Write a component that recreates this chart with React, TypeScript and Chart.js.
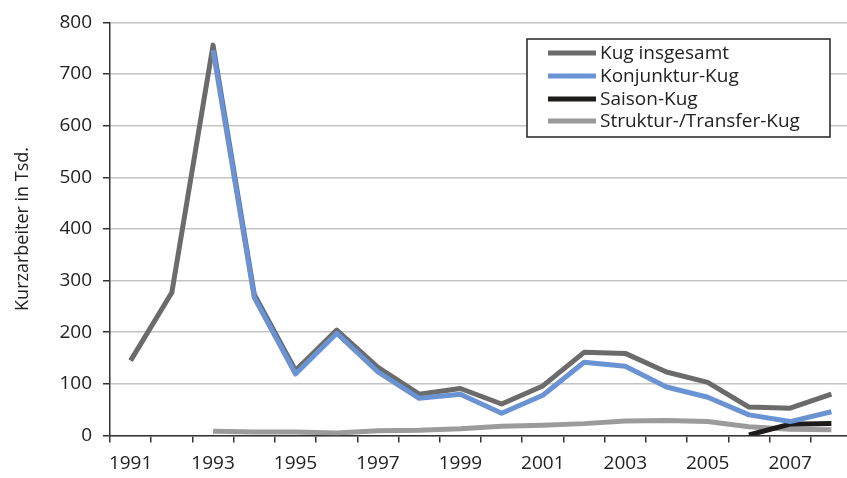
import React, { useEffect, useRef } from "react";
import { Chart, registerables } from "chart.js";

Chart.register(...registerables);

const years = ["1991","1992","1993","1994","1995","1996","1997","1998","1999","2000","2001","2002","2003","2004","2005","2006","2007","2008"];
const kugInsgesamt = [145, 277, 756, 273, 126, 204, 132, 80, 91, 61, 96, 161, 159, 123, 103, 55, 53, 80];
const konjunkturKug = [null, null, 746, 267, 119, 198, 123, 72, 80, 43, 78, 142, 134, 94, 74, 40, 27, 46];
const saisonKug = [null, null, null, null, null, null, null, null, null, null, null, null, null, null, null, 1, 22, 23];
const strukturKug = [null, null, 8, 7, 7, 5, 9, 10, 13, 18, 20, 23, 28, 29, 27, 17, 12, 11];
const yTitle = "Kurzarbeiter in Tsd.";
const seriesNames = ["Kug insgesamt", "Konjunktur-Kug", "Saison-Kug", "Struktur-/Transfer-Kug"];
const seriesColors = ["#6b6b6b", "#6a93d4", "#1f1b1b", "#9b9b9b"];

const FONT = "'Open Sans', sans-serif";

const boxLegend = {
  id: "boxLegend",
  afterDraw(chart: any) {
    const ctx = chart.ctx;
    ctx.save();
    ctx.fillStyle = "#ffffff";
    ctx.fillRect(527, 39, 303, 98);
    ctx.strokeStyle = "#222";
    ctx.lineWidth = 1.5;
    ctx.strokeRect(527, 39, 303, 98);
    const rows = [53, 76, 99, 121];
    seriesNames.forEach((name, i) => {
      ctx.beginPath();
      ctx.strokeStyle = seriesColors[i];
      ctx.lineWidth = 5;
      ctx.moveTo(548, rows[i]);
      ctx.lineTo(596, rows[i]);
      ctx.stroke();
      ctx.fillStyle = "#222";
      ctx.font = `19px ${FONT}`;
      ctx.textBaseline = "middle";
      ctx.textAlign = "left";
      ctx.fillText(name, 600, rows[i] + 1);
    });
    ctx.restore();
  },
};

export default function App() {
  const ref = useRef<HTMLCanvasElement>(null);
  useEffect(() => {
    if (!ref.current) return;
    const mk = (i: number, data: any[], order: number) => ({
      label: seriesNames[i],
      data,
      borderColor: seriesColors[i],
      backgroundColor: seriesColors[i],
      borderWidth: 5,
      pointRadius: 0,
      tension: 0,
      fill: false,
      spanGaps: false,
      borderJoinStyle: "round" as const,
      order,
    });
    const chart = new Chart(ref.current, {
      type: "line",
      data: {
        labels: years,
        datasets: [
          mk(0, kugInsgesamt, 3),
          mk(1, konjunkturKug, 0),
          mk(2, saisonKug, 1),
          mk(3, strukturKug, 2),
        ],
      },
      options: {
        responsive: false,
        animation: false,
        layout: { padding: { left: 0, right: 8, top: 21, bottom: 0 } },
        plugins: { legend: { display: false }, tooltip: { enabled: false } },
        scales: {
          x: {
            type: "category",
            offset: true,
            grid: { drawOnChartArea: false, drawTicks: true, tickLength: 7, tickColor: "#333", offset: true, lineWidth: 1.5 },
            border: { display: true, color: "#333", width: 1.5 },
            ticks: {
              autoSkip: false,
              maxRotation: 0,
              minRotation: 0,
              padding: 10,
              color: "#222",
              font: { family: FONT, size: 19 },
              callback: function (this: any, v: any, i: number) {
                return i % 2 === 0 ? years[i] : "";
              },
            },
            afterFit: (s: any) => { s.height = 42.5; },
          },
          y: {
            min: 0,
            max: 800,
            grid: { color: "#c4c4c4", lineWidth: 1.5, tickLength: 7, tickColor: "#333" },
            border: { display: true, color: "#333", width: 1.5 },
            ticks: {
              stepSize: 100,
              padding: 11,
              color: "#222",
              font: { family: FONT, size: 19 },
            },
            title: {
              display: true,
              text: yTitle,
              color: "#222",
              font: { family: FONT, size: 18 },
              padding: { top: 12, bottom: 0 },
            },
            afterFit: (s: any) => { s.width = 110; },
          },
        },
      },
      plugins: [boxLegend],
    });
    return () => chart.destroy();
  }, []);
  return (
    <div style={{ position: "fixed", left: 0, top: 0, width: 847, height: 478, overflow: "hidden", background: "#fff" }}>
      <canvas ref={ref} width={860} height={478} style={{ display: "block" }} />
    </div>
  );
}
